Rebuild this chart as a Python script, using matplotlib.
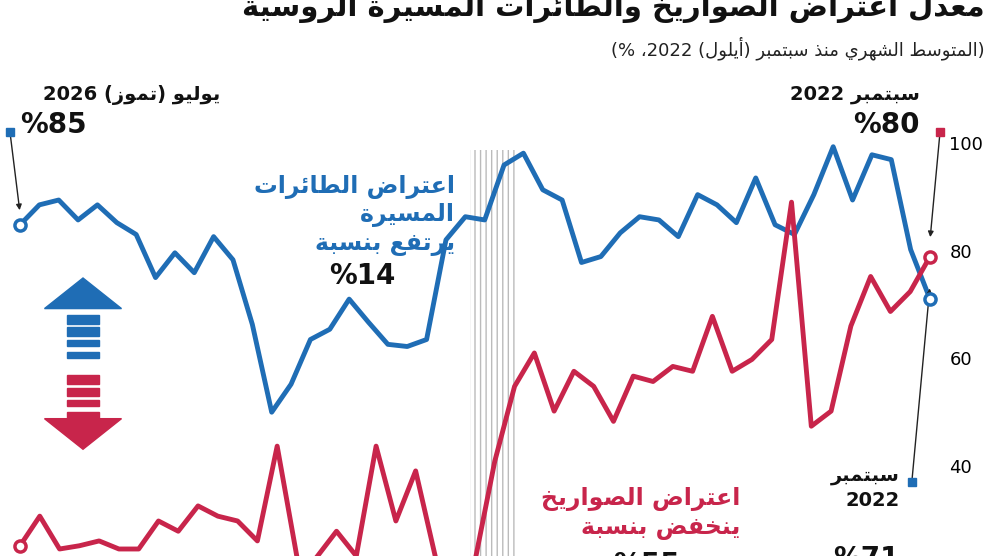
import re
import unicodedata
import numpy as np
import matplotlib
matplotlib.use("Agg")
import matplotlib.pyplot as plt
from matplotlib.patches import Polygon, Rectangle

# --- simple Arabic shaping + visual reordering (matplotlib has no bidi) ---
RIGHT_ONLY = set("اأإآدذرزوؤةى")
NON_JOIN = set("ء")


def is_letter(c):
    return unicodedata.name(c, "").startswith("ARABIC LETTER")


def shape(text):
    chars = list(text)
    out = []
    for i, c in enumerate(chars):
        if not is_letter(c):
            out.append(c)
            continue
        j = i - 1
        while j >= 0 and unicodedata.category(chars[j]) == "Mn":
            j -= 1
        prev = chars[j] if j >= 0 else ""
        k = i + 1
        while k < len(chars) and unicodedata.category(chars[k]) == "Mn":
            k += 1
        nxt = chars[k] if k < len(chars) else ""
        jp = prev != "" and is_letter(prev) and prev not in RIGHT_ONLY and prev not in NON_JOIN and c not in NON_JOIN
        jn = nxt != "" and is_letter(nxt) and nxt not in NON_JOIN and c not in RIGHT_ONLY and c not in NON_JOIN
        form = "MEDIAL" if jp and jn else "FINAL" if jp else "INITIAL" if jn else "ISOLATED"
        try:
            out.append(unicodedata.lookup(unicodedata.name(c) + " " + form + " FORM"))
        except KeyError:
            out.append(c)
    s = "".join(out)[::-1]
    s = s.translate(str.maketrans("()", ")("))
    s = re.sub(r"[0-9A-Za-z]+", lambda m: m.group(0)[::-1], s)
    return s


def ar(text):
    return "\n".join(shape(line) for line in text.split("\n"))


# --- data, left = July 2026, right = September 2022 ---
drones = [84.8, 88.5, 89.4, 85.7, 88.5, 85.2, 83.0, 75.0, 79.6, 75.9, 82.6, 78.3,
          66.3, 50.0, 55.2, 63.5, 65.4, 71.0, 66.7, 62.6, 62.2, 63.5, 82.0, 86.3,
          85.7, 95.9, 98.1, 91.3, 89.4, 77.8, 78.9, 83.3, 86.3, 85.7, 82.6, 90.4,
          88.5, 85.2, 93.5, 84.8, 83.0, 90.4, 99.3, 89.4, 97.8, 96.9, 80.2, 71.0]
missiles = [25.2, 30.7, 24.6, 25.2, 26.1, 24.6, 24.6, 29.8, 27.9, 32.6, 30.7, 29.8,
            26.1, 43.7, 23.1, 23.1, 27.9, 23.3, 43.7, 29.8, 39.1, 23.1, 22.4, 22.4,
            40.9, 54.8, 61.0, 50.2, 57.6, 54.8, 48.3, 56.7, 55.7, 58.5, 57.6, 67.8,
            57.6, 59.8, 63.5, 89.0, 47.4, 50.2, 66.0, 75.2, 68.7, 72.4, 78.9]
yticks = [40, 60, 80, 100]

BLUE = "#1f6db5"
RED = "#c8254b"

plt.rcParams["font.family"] = ["DejaVu Sans"]
fig = plt.figure(figsize=(10, 5.56), dpi=100)
ax = fig.add_axes([0.02, 0.0, 0.91, (556 - 95) / 556])
ax.set_xlim(0, 1)
ax.set_ylim(23.3, 108.9)

xb = np.linspace(0, 1, len(drones))
xr = np.linspace(0, 1, len(missiles))
ax.plot(xb, drones, color=BLUE, lw=3.5, solid_joinstyle="round", zorder=3)
ax.plot(xr, missiles, color=RED, lw=3.5, solid_joinstyle="round", zorder=3)
for x, y, col in [(xb[0], drones[0], BLUE), (xb[-1], drones[-1], BLUE),
                  (xr[0], missiles[0], RED), (xr[-1], missiles[-1], RED)]:
    ax.plot(x, y, "o", ms=8, mfc="white", mec=col, mew=2.5, zorder=5, clip_on=False)

# hatched band
ax.axvspan(0.495, 0.545, ymax=0.88, facecolor="white", edgecolor="#bbbbbb",
           hatch="|||", lw=0, zorder=1)

for s in ax.spines.values():
    s.set_visible(False)
ax.set_xticks([])
ax.yaxis.tick_right()
ax.set_yticks(yticks)
ax.tick_params(axis="y", length=0, labelsize=13, pad=14)

# callout markers and leader lines
def callout(x0, y0, x1, y1, col):
    ax.annotate("", xy=(x1, y1), xytext=(x0, y0), textcoords="data",
                arrowprops=dict(arrowstyle="-|>", color="#222222", lw=1,
                                connectionstyle="arc3,rad=0", mutation_scale=8),
                annotation_clip=False, zorder=4)
    ax.plot(x0, y0, "s", ms=6, color=col, clip_on=False, zorder=5)

callout(-0.011, 102, 0.0, 87, BLUE)
callout(1.011, 102, 1.0, 82, RED)
callout(0.98, 37, 1.0, 73.5, BLUE)

tk = dict(fontweight="bold", color="#111111")
fig.text(0.22, 0.82, ar("يوليو (تموز) 2026"), ha="right", fontsize=14, **tk)
fig.text(0.02, 0.76, "%85", ha="left", fontsize=20, **tk)
fig.text(0.92, 0.82, ar("سبتمبر 2022"), ha="right", fontsize=14, **tk)
fig.text(0.92, 0.76, "%80", ha="right", fontsize=20, **tk)
fig.text(0.90, 0.09, ar("سبتمبر\n2022"), ha="right", fontsize=14, linespacing=1.4, **tk)
fig.text(0.90, -0.02, "%71", ha="right", fontsize=20, **tk)

fig.text(0.455, 0.55, ar("اعتراض الطائرات\nالمسيرة\nيرتفع بنسبة"), ha="right",
         fontsize=17, color=BLUE, fontweight="bold", linespacing=1.2)
fig.text(0.395, 0.49, "%14", ha="right", fontsize=20, color="#111111", fontweight="bold")
fig.text(0.74, 0.04, ar("اعتراض الصواريخ\nينخفض بنسبة"), ha="right",
         fontsize=17, color=RED, fontweight="bold", linespacing=1.2)
fig.text(0.68, -0.03, "%55", ha="right", fontsize=20, color="#111111", fontweight="bold")

fig.text(0.985, 0.972, ar("معدل اعتراض الصواريخ والطائرات المسيّرة الروسية"),
         ha="right", fontsize=21, fontweight="bold", color="#111111")
fig.text(0.985, 0.9, ar("(المتوسط الشهري منذ سبتمبر (أيلول) 2022، %)"),
         ha="right", fontsize=13, color="#222222")

# up / down arrow icons
def arrow_icon(cx, top, col, up):
    w, hw, hh = 0.032, 0.055, 0.055
    if up:
        head = [(cx - hw / 2 * 1.4, top - hh), (cx + hw / 2 * 1.4, top - hh), (cx, top)]
        fig.patches.append(Polygon(head, closed=True, color=col, transform=fig.transFigure))
        ys = [top - hh - 0.012 - i * 0.022 for i in range(4)]
    else:
        ys = [top - i * 0.022 for i in range(4)]
        b = ys[-1] - 0.012
        head = [(cx - hw / 2 * 1.4, b), (cx + hw / 2 * 1.4, b), (cx, b - hh)]
        fig.patches.append(Polygon(head, closed=True, color=col, transform=fig.transFigure))
    for k, y in enumerate(ys):
        h = 0.016 if k < 2 else 0.011
        fig.patches.append(Rectangle((cx - w / 2, y - h), w, h, color=col,
                                     transform=fig.transFigure))

arrow_icon(0.083, 0.5, BLUE, True)
arrow_icon(0.083, 0.325, RED, False)

fig.savefig("out.png", dpi=100)
